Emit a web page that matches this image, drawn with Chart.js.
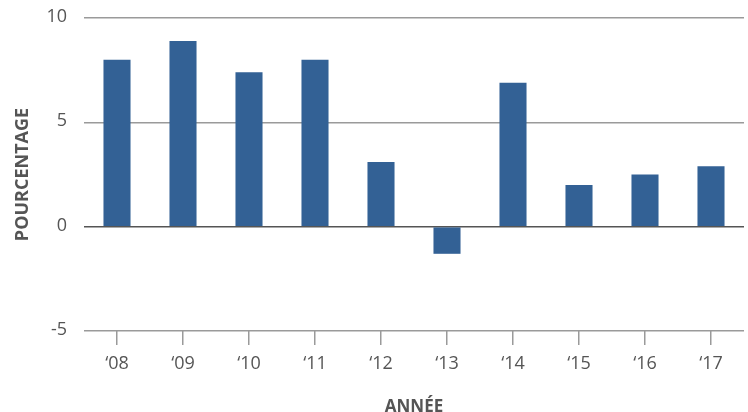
<!DOCTYPE html>
<html>
<head>
<meta charset="utf-8">
<script src="https://cdn.jsdelivr.net/npm/chart.js@4/dist/chart.umd.min.js"></script>
<style>
  html, body { margin: 0; padding: 0; background: #fff; }
  #wrap { width: 748px; height: 412px; }
</style>
</head>
<body>
<div id="wrap"><canvas id="c" width="748" height="412"></canvas></div>
<script>
const categories = ["‘08", "‘09", "‘10", "‘11", "‘12", "‘13", "‘14", "‘15", "‘16", "‘17"];
const values = [8.0, 8.9, 7.4, 8.0, 3.1, -1.3, 6.9, 2.0, 2.5, 2.9];
const yTicks = [-5, 0, 5, 10];
const xTitle = "ANNÉE";
const yTitle = "POURCENTAGE";

const textColor = '#555555';
const fontFamily = '"Open Sans", "Noto Sans", sans-serif';

new Chart(document.getElementById('c'), {
  type: 'bar',
  data: {
    labels: categories,
    datasets: [{
      data: values,
      backgroundColor: '#336195',
      borderWidth: 0,
      barPercentage: 0.41,
      categoryPercentage: 1.0
    }]
  },
  options: {
    responsive: false,
    animation: false,
    devicePixelRatio: 1,
    layout: { padding: { top: 18, right: 4, bottom: 0, left: 0 } },
    plugins: { legend: { display: false }, tooltip: { enabled: false } },
    scales: {
      x: {
        offset: true,
        afterFit: s => { s.height = 81; s.paddingLeft = 0; s.paddingRight = 0; },
        grid: {
          offset: false,
          drawOnChartArea: false,
          drawTicks: true,
          tickLength: 14,
          color: '#9a9a9a',
          lineWidth: 1.5
        },
        border: { display: false },
        ticks: {
          color: textColor,
          font: { family: fontFamily, size: 18 },
          padding: 8,
          maxRotation: 0
        },
        title: {
          display: true,
          text: xTitle,
          color: textColor,
          font: { family: fontFamily, size: 17, weight: 'bold' },
          padding: { top: 0, bottom: -5 }
        }
      },
      y: {
        min: yTicks[0],
        max: yTicks[yTicks.length - 1],
        afterFit: s => { s.width = 84; s.paddingTop = 0; s.paddingBottom = 0; },
        afterBuildTicks: s => { s.ticks = yTicks.map(v => ({ value: v })); },
        grid: {
          drawTicks: false,
          color: ctx => (ctx.tick && ctx.tick.value === 0) ? '#555555' : '#9a9a9a',
          lineWidth: 1.5
        },
        border: { display: false },
        ticks: {
          color: textColor,
          font: { family: fontFamily, size: 18 },
          padding: 17,
          labelOffset: -1
        },
        title: {
          display: true,
          text: yTitle,
          color: textColor,
          font: { family: fontFamily, size: 18, weight: 'bold' },
          padding: { top: 12, bottom: 0 }
        }
      }
    }
  }
});
</script>
</body>
</html>
